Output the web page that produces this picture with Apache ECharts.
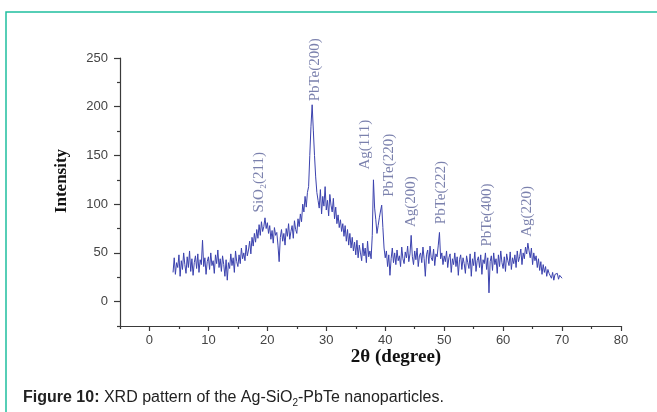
<!DOCTYPE html>
<html>
<head>
<meta charset="utf-8">
<script src="https://cdn.jsdelivr.net/npm/echarts@6/dist/echarts.min.js"></script>
<style>
  html, body { margin: 0; padding: 0; background: #ffffff; }
  #chart { width: 657px; height: 412px; }
</style>
</head>
<body>
<div id="chart"></div>
<script>
// XRD scan: 2θ from 4° to 70° in 0.2° steps
const angleStart = 4.0;
const angleStep = 0.2;
const intensities = [
  30, 45, 28, 40, 35, 48, 26, 42, 33, 50,
  38, 29, 46, 35, 52, 31, 44, 27, 40, 47,
  34, 49, 30, 43, 38, 63, 36, 45, 28, 41,
  46, 33, 50, 37, 42, 29, 48, 39, 53, 35,
  44, 31, 47, 38, 26, 43, 22, 40, 34, 49,
  37, 45, 30, 52, 41, 36, 48, 39, 55, 44,
  50, 42, 58, 47, 53, 62, 49, 66, 57, 70,
  61, 74, 65, 79, 68, 82, 72, 77, 86, 75,
  81, 70, 78, 64, 73, 60, 76, 68, 71, 58,
  41, 66, 74, 62, 70, 58, 75, 67, 80, 64,
  72, 78, 65, 83, 74, 70, 85, 77, 90, 82,
  100, 92, 108, 97, 112, 118, 150, 180, 202, 176,
  150, 128, 112, 104, 96, 115, 90, 108, 98, 118,
  94, 104, 88, 110, 99, 92, 106, 85, 97, 80,
  89, 76, 84, 72, 80, 67, 78, 62, 74, 58,
  70, 55, 66, 52, 61, 48, 63, 45, 58, 50,
  42, 60, 47, 55, 40, 62, 46, 52, 44, 68,
  125, 96, 84, 70, 78, 86, 93, 99, 76, 55,
  45, 52, 36, 48, 27, 44, 55, 40, 50, 38,
  53, 42, 47, 36, 56, 44, 39, 51, 45, 57,
  41, 49, 68, 46, 38, 52, 43, 55, 36, 47,
  50, 40, 56, 44, 26, 48, 53, 39, 57, 45,
  42, 54, 37, 49, 46, 58, 71, 44, 50, 38,
  47, 41, 52, 35, 45, 49, 30, 44, 38, 50,
  36, 46, 27, 43, 48, 33, 45, 39, 29, 47,
  40, 34, 49, 26, 44, 37, 51, 31, 42, 46,
  35, 48, 28, 43, 39, 50, 33, 45, 9, 41,
  47, 32, 50, 38, 44, 29, 48, 36, 52, 40,
  34, 46, 31, 49, 42, 37, 51, 33, 45, 39,
  48, 35, 52, 41, 46, 54, 38, 50, 44, 56,
  49, 60, 52, 45, 55, 38, 50, 42, 47, 35,
  44, 32, 41, 28, 38, 30, 36, 26, 33, 29,
  31, 24, 30, 22, 28, 26, 29, 23, 27, 25,
  24
];

// Reflection labels: name, 2θ where the label sits, intensity at the label's foot
const peakNames = ['SiO₂(211)', 'PbTe(200)', 'Ag(111)', 'PbTe(220)', 'Ag(200)', 'PbTe(222)', 'PbTe(400)', 'Ag(220)'];
const peakAngles = [18.75, 28.1, 36.6, 40.8, 44.4, 49.6, 57.4, 64.2];
const peakLabelFoot = [91, 205, 135, 107, 76, 79, 56, 66];

// Axis ticks
const xMajorTicks = [0, 10, 20, 30, 40, 50, 60, 70, 80];
const xMinorTicks = [-5, 5, 15, 25, 35, 45, 55, 65, 75];
const yMajorTicks = [0, 50, 100, 150, 200, 250];
const yMinorTicks = [-25, 25, 75, 125, 175, 225];

const scan = intensities.map((v, i) => [+(angleStart + i * angleStep).toFixed(1), v]);
const peaks = peakNames.map((n, i) => ({ value: [peakAngles[i], peakLabelFoot[i]], name: n }));

const axisColor = '#3a3a3a';
const tickFont = { fontFamily: 'Liberation Sans, Arial, sans-serif', fontSize: 13, color: '#444444' };

function xAxisOf(ticks, len, withLabels) {
  return {
    type: 'value', min: -5, max: 80, position: 'bottom', gridIndex: 0,
    axisLine: { show: withLabels, onZero: false, lineStyle: { color: axisColor, width: 1.2 } },
    axisTick: { show: true, customValues: ticks, length: len, lineStyle: { color: axisColor, width: 1.2 } },
    axisLabel: Object.assign({ show: withLabels, customValues: ticks, margin: 8 }, tickFont),
    splitLine: { show: false }
  };
}
function yAxisOf(ticks, len, withLabels) {
  return {
    type: 'value', min: -25, max: 250, position: 'left', gridIndex: 0,
    axisLine: { show: withLabels, onZero: false, lineStyle: { color: axisColor, width: 1.2 } },
    axisTick: { show: true, customValues: ticks, length: len, lineStyle: { color: axisColor, width: 1.2 } },
    axisLabel: Object.assign({ show: withLabels, customValues: ticks, margin: 12 }, tickFont),
    splitLine: { show: false }
  };
}

const chart = echarts.init(document.getElementById('chart'), null, { renderer: 'canvas' });
chart.setOption({
  animation: false,
  backgroundColor: '#ffffff',
  grid: { left: 120, right: 36, top: 58, bottom: 86 },
  xAxis: [xAxisOf(xMajorTicks, 5, true), xAxisOf(xMinorTicks, 3, false)],
  yAxis: [yAxisOf(yMajorTicks, 6, true), yAxisOf(yMinorTicks, 3, false)],
  series: [
    {
      type: 'line',
      xAxisIndex: 0, yAxisIndex: 0,
      data: scan,
      showSymbol: false,
      symbol: 'none',
      lineStyle: { color: '#3b42ae', width: 1 },
      z: 2
    },
    {
      type: 'scatter',
      xAxisIndex: 0, yAxisIndex: 0,
      data: peaks,
      symbolSize: 1,
      itemStyle: { color: 'rgba(0,0,0,0)' },
      label: {
        show: true,
        formatter: p => p.name,
        position: [0, 0],
        rotate: 90,
        align: 'left',
        verticalAlign: 'middle',
        fontFamily: 'Liberation Serif, Times New Roman, serif',
        fontSize: 15,
        color: '#5a6299'
      },
      z: 3
    }
  ],
  graphic: [
    {
      type: 'rect',
      shape: { x: 6, y: 12, width: 700, height: 500 },
      style: { fill: 'none', stroke: '#1fbf9f', lineWidth: 1.5 },
      silent: true
    },
    {
      type: 'text',
      x: 62, y: 181, rotation: Math.PI / 2,
      style: {
        text: 'Intensity', align: 'center', verticalAlign: 'middle',
        fontFamily: 'Liberation Serif, Times New Roman, serif', fontWeight: 'bold', fontSize: 17, fill: '#111111'
      }
    },
    {
      type: 'text',
      x: 396, y: 357,
      style: {
        text: '2θ (degree)', align: 'center', verticalAlign: 'middle',
        fontFamily: 'Liberation Serif, Times New Roman, serif', fontWeight: 'bold', fontSize: 19, fill: '#111111'
      }
    },
    {
      type: 'text',
      x: 23, y: 398,
      style: {
        text: '{b|Figure 10:} XRD pattern of the Ag-SiO{s|2}-PbTe nanoparticles.',
        align: 'left', verticalAlign: 'middle',
        fontFamily: 'Liberation Sans, Arial, sans-serif', fontSize: 16, fill: '#222222', lineHeight: 20,
        rich: {
          b: { fontWeight: 'bold', fontSize: 16, fontFamily: 'Liberation Sans, Arial, sans-serif', fill: '#222222', lineHeight: 20 },
          s: { fontSize: 10, fontFamily: 'Liberation Sans, Arial, sans-serif', fill: '#222222', lineHeight: 10, verticalAlign: 'bottom' }
        }
      }
    }
  ]
});
</script>
</body>
</html>
